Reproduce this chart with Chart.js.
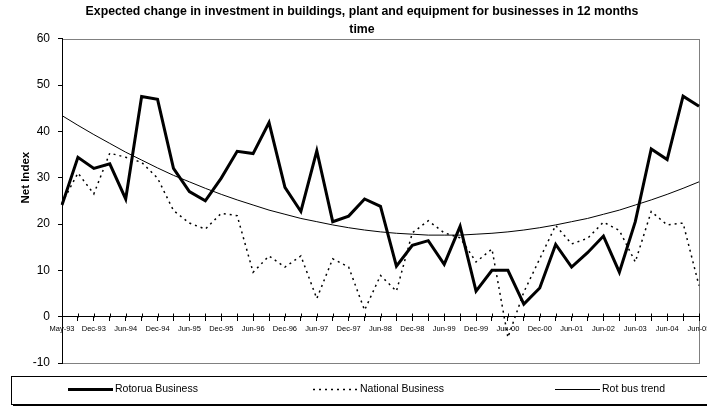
<!DOCTYPE html>
<html>
<head>
<meta charset="utf-8">
<script src="https://cdn.jsdelivr.net/npm/chart.js@4"></script>
<style>
  html, body { margin: 0; padding: 0; background: #fff; }
  canvas { display: block; }
</style>
</head>
<body>
<canvas id="chart" width="707" height="407"></canvas>
<script>
const labels = [
    'May-93', 'Sep-93', 'Dec-93', 'Mar-94', 'Jun-94', 'Sep-94', 'Dec-94', 'Mar-95', 'Jun-95', 'Sep-95',
    'Dec-95', 'Mar-96', 'Jun-96', 'Sep-96', 'Dec-96', 'Mar-97', 'Jun-97', 'Sep-97', 'Dec-97', 'Mar-98',
    'Jun-98', 'Sep-98', 'Dec-98', 'Mar-99', 'Jun-99', 'Sep-99', 'Dec-99', 'Mar-00', 'Jun-00', 'Sep-00',
    'Dec-00', 'Mar-01', 'Jun-01', 'Dec-01', 'Jun-02', 'Dec-02', 'Jun-03', 'Dec-03', 'Jun-04', 'Dec-04',
    'Jun-05'
];
const rotorua = [
    24.1, 34.4, 32.0, 33.0, 25.4, 47.5, 46.9, 32.0, 27.0, 25.0,
    29.9, 35.7, 35.2, 41.9, 27.9, 22.7, 35.8, 20.5, 21.7, 25.4,
    23.8, 10.9, 15.4, 16.4, 11.3, 19.5, 5.5, 10.0, 10.0, 2.7,
    6.2, 15.6, 10.7, 13.8, 17.4, 9.6, 20.5, 36.2, 33.9, 47.6,
    45.4
];
const national = [
    24.5, 31.0, 26.5, 35.3, 34.4, 33.3, 29.9, 22.9, 20.2, 18.9,
    22.3, 21.8, 9.6, 13.1, 10.7, 13.1, 3.9, 12.5, 10.7, 1.4,
    8.9, 5.5, 18.1, 20.7, 18.1, 17.0, 11.8, 14.6, -4.5, 5.3,
    12.5, 19.7, 15.7, 16.9, 20.4, 18.6, 11.8, 22.7, 19.8, 20.2,
    6.7
];
const rotTrend = [
    43.4, 41.3, 39.3, 37.4, 35.5, 33.8, 32.1, 30.5, 29.1, 27.7,
    26.4, 25.2, 24.1, 23.0, 22.1, 21.2, 20.5, 19.8, 19.2, 18.7,
    18.3, 18.0, 17.8, 17.6, 17.6, 17.6, 17.8, 18.0, 18.3, 18.7,
    19.2, 19.8, 20.5, 21.2, 22.1, 23.0, 24.1, 25.2, 26.4, 27.7,
    29.1
];
const Y_MIN = -10;
const Y_MAX = 60;
const Y_STEP = 10;

const FONT = "'Liberation Sans', Arial, sans-serif";
Chart.defaults.font.family = FONT;
Chart.defaults.color = '#000';

// plot frame, y title, cross ticks and the boxed legend
const frame = {
    id: 'frame',
    beforeDraw(chart) {
        const a = chart.chartArea;
        const ctx = chart.ctx;
        ctx.save();
        ctx.strokeStyle = '#808080';
        ctx.lineWidth = 1;
        ctx.strokeRect(Math.round(a.left) + 0.5, Math.round(a.top) + 0.5,
            Math.round(a.right - a.left), Math.round(a.bottom - a.top));
        ctx.restore();
    },
    afterDraw(chart) {
        const ctx = chart.ctx;
        const x = chart.scales.x;
        const y = chart.scales.y;
        ctx.save();

        // upper half of the cross tick marks on the category axis
        const y0 = Math.round(y.getPixelForValue(0)) + 0.5;
        ctx.strokeStyle = '#000';
        ctx.lineWidth = 1;
        ctx.beginPath();
        x.ticks.forEach((t, i) => {
            const px = Math.round(x.getPixelForTick(i)) + 0.5;
            ctx.moveTo(px, y0 - 4);
            ctx.lineTo(px, y0);
        });
        ctx.stroke();

        // value axis title, centred on 0..60 like the original
        ctx.font = 'bold 11.5px ' + FONT;
        ctx.fillStyle = '#000';
        ctx.textAlign = 'center';
        ctx.textBaseline = 'middle';
        ctx.translate(26, (y.getPixelForValue(0) + y.getPixelForValue(Y_MAX)) / 2);
        ctx.rotate(-Math.PI / 2);
        ctx.fillText('Net Index', 0, 0);
        ctx.setTransform(1, 0, 0, 1, 0, 0);

        // legend box with shadow
        ctx.fillStyle = '#000';
        ctx.fillRect(13, 404, 700, 2);
        ctx.strokeRect(11.5, 376.5, 700, 28);
        const itemX = [68, 313, 555];
        const ly = 389.5;
        ctx.font = '10.5px ' + FONT;
        ctx.textAlign = 'left';
        chart.data.datasets.forEach((ds, i) => {
            ctx.lineWidth = ds.borderWidth;
            ctx.setLineDash(ds.borderDash || []);
            ctx.beginPath();
            ctx.moveTo(itemX[i], ly);
            ctx.lineTo(itemX[i] + 45, ly);
            ctx.stroke();
            ctx.setLineDash([]);
            ctx.fillText(ds.label, itemX[i] + 47, ly);
        });
        ctx.restore();
    }
};

const ctx = document.getElementById('chart').getContext('2d');
const chart = new Chart(ctx, {
    type: 'line',
    data: {
        labels: labels,
        datasets: [{
            label: 'Rotorua Business',
            data: rotorua,
            borderColor: '#000',
            borderWidth: 3,
            pointRadius: 0,
            order: 1
        }, {
            label: 'National Business',
            data: national,
            borderColor: '#000',
            borderWidth: 1.5,
            borderDash: [2, 4],
            pointRadius: 0,
            order: 2
        }, {
            label: 'Rot bus trend',
            data: rotTrend,
            borderColor: '#000',
            borderWidth: 1,
            pointRadius: 0,
            order: 3
        }]
    },
    options: {
        responsive: false,
        animation: false,
        devicePixelRatio: 1,
        layout: { padding: { left: 25, right: 8, top: 0, bottom: 44 } },
        plugins: {
            legend: { display: false },
            tooltip: { enabled: false },
            title: {
                display: true,
                text: ['Expected change in investment in buildings, plant and equipment for businesses in 12 months', 'time'],
                font: { size: 12.3, weight: 'bold', lineHeight: 1.45 },
                color: '#000',
                padding: { top: 3, bottom: 0 }
            }
        },
        scales: {
            x: {
                position: { y: 0 },
                offset: false,
                grid: { drawOnChartArea: false, drawTicks: true, tickLength: 4, color: '#000' },
                border: { color: '#000', width: 1 },
                ticks: {
                    autoSkip: false,
                    maxRotation: 0,
                    minRotation: 0,
                    padding: 4,
                    font: { size: 7.5 },
                    callback: (v, i) => (i % 2 === 0 ? labels[i] : '')
                },
                afterFit(scale) {
                    scale.paddingLeft = 0;
                    scale.paddingRight = 0;
                }
            },
            y: {
                min: Y_MIN,
                max: Y_MAX,
                grid: { drawOnChartArea: false, drawTicks: true, tickLength: 4, color: '#000' },
                border: { color: '#000', width: 1 },
                ticks: { stepSize: Y_STEP, padding: 8, font: { size: 12 } },
                afterFit(scale) {
                    scale.width = 37;
                    scale.paddingTop = 0;
                    scale.paddingBottom = 0;
                }
            }
        }
    },
    plugins: [frame]
});
</script>
</body>
</html>
